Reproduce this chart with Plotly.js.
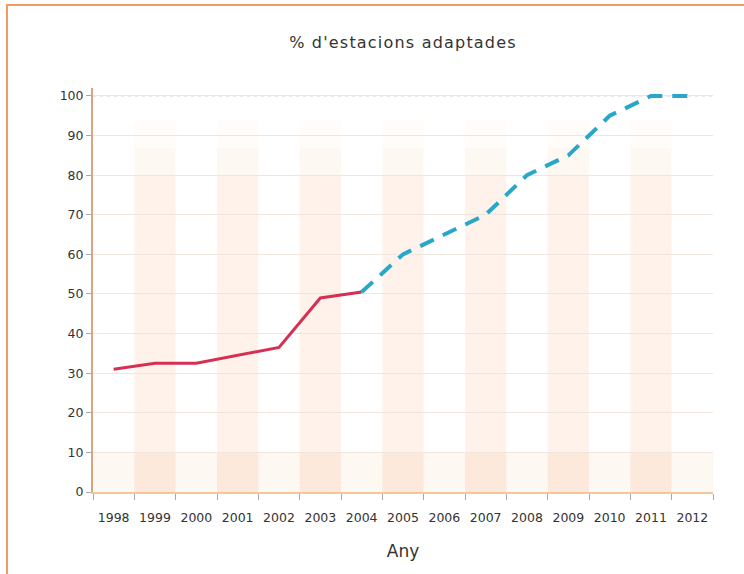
<!DOCTYPE html>
<html>
<head>
<meta charset="utf-8">
<script src="https://cdn.plot.ly/plotly-3.0.1.min.js"></script>
<style>
html,body{margin:0;padding:0;background:#fff;}
#wrap{position:relative;width:744px;height:574px;overflow:hidden;}
#frame{position:absolute;left:6px;top:4px;width:760px;height:600px;border-top:2px solid #f29a64;border-left:2px solid #f29a64;pointer-events:none;z-index:5;}
#chart{position:absolute;left:0;top:0;width:744px;height:574px;}
#chart .gtitle{letter-spacing:1.2px;}
</style>
</head>
<body>
<div id="wrap"><div id="chart"></div><div id="frame"></div></div>
<script>
const years = ['1998','1999','2000','2001','2002','2003','2004','2005','2006','2007','2008','2009','2010','2011','2012'];
const historicValues = [31, 32.5, 32.5, 34.5, 36.5, 49, 50.5, null, null, null, null, null, null, null, null];
const plannedValues = [null, null, null, null, null, null, 50.5, 60, 65, 70, 80, 85, 95, 100, 100];
const yTicks = [0, 10, 20, 30, 40, 50, 60, 70, 80, 90, 100];
const titleText = "% d'estacions adaptades";
const xTitle = 'Any';

const shapes = [];
// alternating shaded year columns (decoration)
years.forEach((y, i) => {
  if (i % 2 === 1) {
    const bands = [[0, 10, 0.24], [10, 80, 0.19], [80, 87, 0.11], [87, 94, 0.05]];
    bands.forEach(b => shapes.push({type:'rect', xref:'x', yref:'y', layer:'below',
      x0: i - 0.5, x1: i + 0.5, y0: b[0], y1: b[1], line:{width:0},
      fillcolor:'rgba(248,188,148,' + b[2] + ')'}));
  }
});
// light band along the bottom
shapes.push({type:'rect', xref:'paper', yref:'y', layer:'below', x0:0, x1:1, y0:0, y1:10,
  line:{width:0}, fillcolor:'rgba(248,200,160,0.12)'});
// dotted upper gridlines
[yTicks[9], yTicks[10]].forEach(v => shapes.push({type:'line', xref:'paper', yref:'y', layer:'below',
  x0:0, x1:1, y0:v, y1:v, line:{color:'#cdc6c0', width:1, dash:'3px,4px'}}));

const traces = [
  {x: years, y: historicValues, type:'scatter', mode:'lines', connectgaps:false,
   line:{color:'#d62f52', width:3}, hoverinfo:'skip'},
  {x: years, y: plannedValues, type:'scatter', mode:'lines', connectgaps:false,
   line:{color:'#27a8cb', width:4, dash:'15px,10px'}, hoverinfo:'skip'}
];

const layout = {
  width: 744, height: 574,
  margin: {l:93, r:31, t:88, b:82},
  paper_bgcolor:'rgba(0,0,0,0)', plot_bgcolor:'#ffffff',
  showlegend:false,
  font:{family:'DejaVu Sans, Arial, sans-serif', color:'#333', size:13},
  title:{text:titleText, x:0.5, xref:'paper', xanchor:'center', y:1-42/574, yanchor:'middle',
    font:{size:16, color:'#333'}},
  xaxis:{type:'category', range:[-0.5, 14.5], showgrid:false, zeroline:false,
    showline:true, linecolor:'#f3c6a2', linewidth:2,
    ticks:'outside', ticklen:6, tickcolor:'#a8a8a8', tickson:'boundaries',
    ticklabelstandoff:13, tickangle:0,
    tickfont:{size:12.5, color:'#333'},
    title:{text:xTitle, standoff:21, font:{size:17, color:'#333'}}},
  yaxis:{range:[0, 102], tickvals:yTicks, ticktext:yTicks.map(String), zeroline:false,
    showgrid:true, gridcolor:'#f1e6dd', gridwidth:1,
    showline:true, linecolor:'#d8a580', linewidth:2,
    ticks:'outside', ticklen:5, tickcolor:'#a8a8a8', tickfont:{size:12.5, color:'#333'}},
  shapes: shapes
};

Plotly.newPlot('chart', traces, layout, {staticPlot:true, displayModeBar:false});
</script>
</body>
</html>
